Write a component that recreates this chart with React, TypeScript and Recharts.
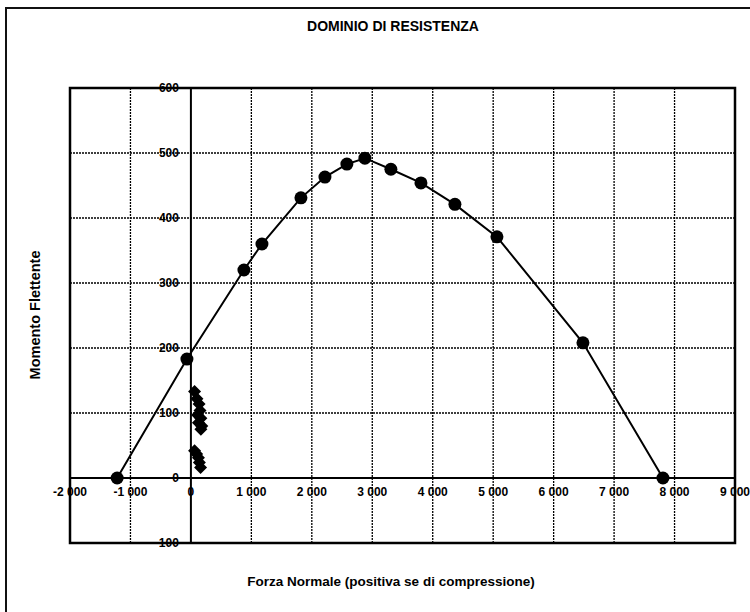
import React from 'react'
import { ScatterChart, Scatter, XAxis, YAxis, ReferenceLine, ReferenceArea, ReferenceDot } from 'recharts'

// curva del dominio (N, M)
const forzaDominio = [-1220, -66, 877, 1175, 1820, 2217, 2580, 2878, 3308, 3805, 4367, 5062, 6485, 7808]
const momentoDominio = [0, 183, 320, 360, 431, 463, 483, 492, 475, 454, 421, 371, 208, 0]

// sollecitazioni di verifica
const forzaSoll = [60, 100, 135, 150, 110, 165, 125, 180, 165, 60, 95, 125, 140, 160]
const momentoSoll = [133, 122, 114, 104, 97, 92, 85, 80, 75, 42, 37, 31, 24, 16]

const xTicks = [-2000, -1000, 0, 1000, 2000, 3000, 4000, 5000, 6000, 7000, 8000, 9000]
const yTicks = [-100, 0, 100, 200, 300, 400, 500, 600]

const dominio = forzaDominio.map((n, i) => ({ n, m: momentoDominio[i] }))
const sollecitazioni = forzaSoll.map((n, i) => ({ n, m: momentoSoll[i] }))

const FONT = "'Liberation Sans', Arial, sans-serif"

function fmt(v: number) {
  if (Math.abs(v) < 1000) return String(v)
  const sign = v < 0 ? '-' : ''
  const a = Math.abs(v)
  return `${sign}${Math.floor(a / 1000)} ${String(a % 1000).padStart(3, '0')}`
}

const Dot = (props: any) => <circle cx={props.cx} cy={props.cy} r={6.5} fill="#000" />

const Diamond = (props: any) => {
  const { cx, cy } = props
  const s = 6.5
  return <polygon points={`${cx},${cy - s} ${cx + s},${cy} ${cx},${cy + s} ${cx - s},${cy}`} fill="#000" />
}

const tickLabel = { fontSize: 12, fontWeight: 700, fill: '#000', fontFamily: FONT }

export default function App() {
  return (
    <div style={{ position: 'absolute', left: 0, top: 0, width: 750, height: 612, background: '#fff', fontFamily: FONT }}>
      <div style={{ position: 'absolute', left: 5, top: 7, width: 745, height: 605, boxSizing: 'border-box', borderTop: '2px solid #111', borderLeft: '2px solid #111' }} />
      <div style={{ position: 'absolute', left: 0, width: 786, top: 18, textAlign: 'center', fontSize: 14, fontWeight: 700 }}>
        DOMINIO DI RESISTENZA
      </div>
      <div style={{ position: 'absolute', left: 0, width: 782, top: 574, textAlign: 'center', fontSize: 13.5, fontWeight: 700 }}>
        Forza Normale (positiva se di compressione)
      </div>
      <div
        style={{
          position: 'absolute', left: 35, top: 315, transform: 'translate(-50%, -50%) rotate(-90deg)',
          whiteSpace: 'nowrap', fontSize: 14.5, fontWeight: 700,
        }}
      >
        Momento Flettente
      </div>
      <div style={{ position: 'absolute', left: 0, top: 0 }}>
        <ScatterChart width={750} height={612} margin={{ top: 88, left: 70, right: 15, bottom: 69 }}>
          <XAxis type="number" dataKey="n" domain={[-2000, 9000]} ticks={xTicks} hide allowDataOverflow />
          <YAxis type="number" dataKey="m" domain={[-100, 600]} ticks={yTicks} hide allowDataOverflow />
          {xTicks.slice(1, -1).filter((t) => t !== 0).map((t) => (
            <ReferenceLine key={'vx' + t} x={t} stroke="#000" strokeWidth={1.3} strokeDasharray="2 1" />
          ))}
          {yTicks.slice(1, -1).filter((t) => t !== 0).map((t) => (
            <ReferenceLine key={'hy' + t} y={t} stroke="#000" strokeWidth={1.3} strokeDasharray="2 1" />
          ))}
          <ReferenceLine x={0} stroke="#000" strokeWidth={2} />
          <ReferenceLine y={0} stroke="#000" strokeWidth={2} />
          <ReferenceArea x1={-2000} x2={9000} y1={-100} y2={600} fill="none" stroke="#000" strokeWidth={2.5} />
          {yTicks.map((t) => (
            <ReferenceDot
              key={'ly' + t}
              x={0}
              y={t}
              r={0}
              ifOverflow="visible"
              label={{ value: fmt(t), position: 'left', offset: 12, ...tickLabel }}
            />
          ))}
          {xTicks.map((t) => (
            <ReferenceDot
              key={'lx' + t}
              x={t}
              y={0}
              r={0}
              ifOverflow="visible"
              label={{ value: fmt(t), position: 'bottom', offset: 9, ...tickLabel }}
            />
          ))}
          <Scatter
            data={dominio}
            line={{ stroke: '#000', strokeWidth: 2 }}
            shape={Dot}
            fill="#000"
            isAnimationActive={false}
          />
          <Scatter data={sollecitazioni} shape={Diamond} fill="#000" isAnimationActive={false} />
        </ScatterChart>
      </div>
    </div>
  )
}
